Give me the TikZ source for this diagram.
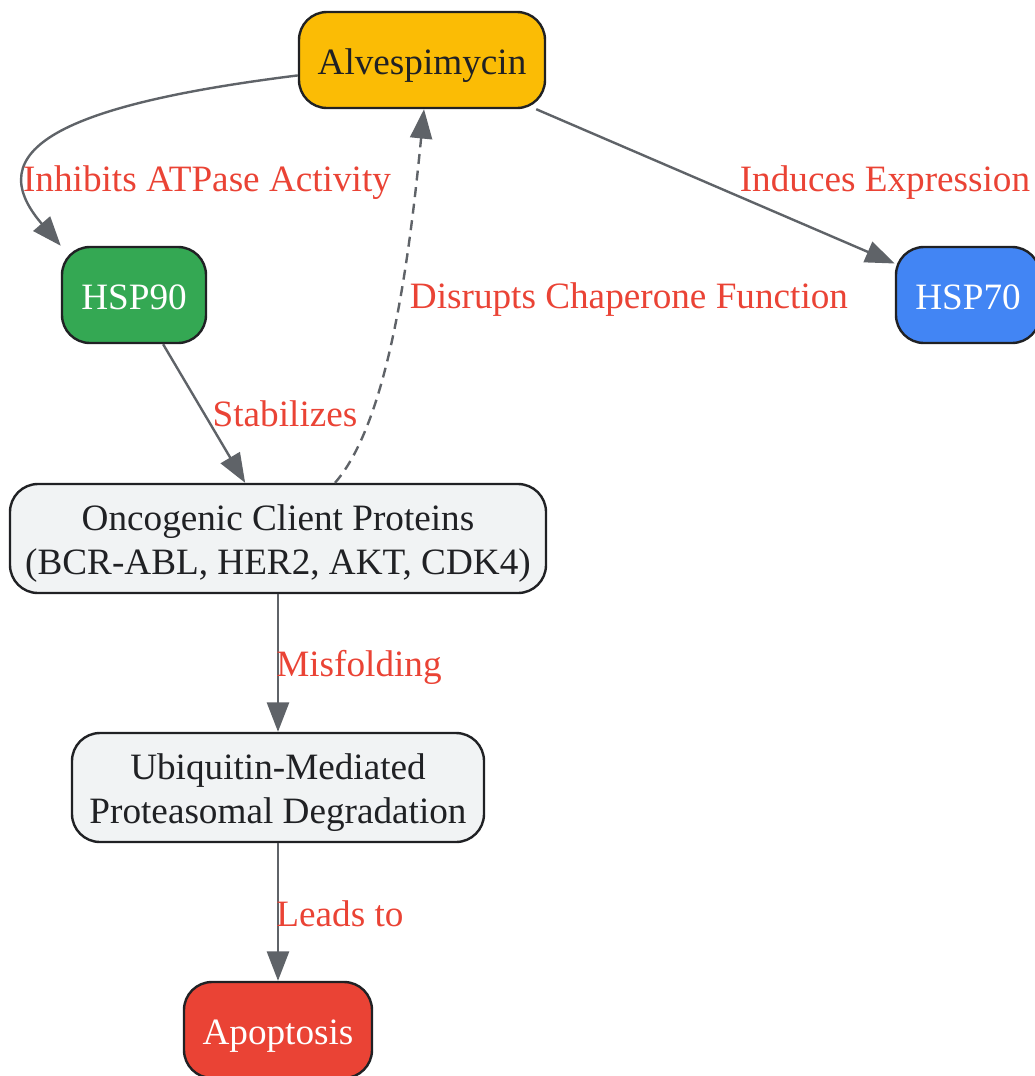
\documentclass[tikz,border=0pt]{standalone}
\usepackage{fontspec}
\setmainfont{Liberation Serif}
\usetikzlibrary{arrows.meta,calc}

\definecolor{drugyellow}{HTML}{FBBC05}
\definecolor{hspgreen}{HTML}{34A853}
\definecolor{hspblue}{HTML}{4285F4}
\definecolor{deathred}{HTML}{EA4335}
\definecolor{boxgrey}{HTML}{F1F3F4}
\definecolor{inkdark}{HTML}{202124}
\definecolor{edgegrey}{HTML}{5F6368}

\newcommand{\linestrut}{\rule[-6.5pt]{0pt}{34.4pt}}
\newcommand{\toplinestrut}{\rule{0pt}{27pt}}

\tikzset{
  box/.style={draw=inkdark, line width=1.8pt, rounded corners=21pt, align=center,
    inner sep=0pt, minimum height=72pt, font=\fontsize{27.9}{33}\selectfont,
    execute at begin node=\linestrut},
  conn/.style={draw=edgegrey, line width=1.8pt, -{Triangle[length=22pt,width=16.5pt]}},
  lbl/.style={text=deathred, inner sep=0pt, font=\fontsize{27.9}{33}\selectfont,
    execute at begin node=\linestrut},
}

\begin{document}
\begin{tikzpicture}[x=0.75pt,y=0.75pt,yscale=-1,xscale=1]
\useasboundingbox (0,0) rectangle (1035,1076);

%Shape: Rounded Rectangle [drug]
\node[box, fill=drugyellow, text=inkdark, minimum width=184.5pt] (alv) at (422,60) {Alvespimycin};
%Shape: Rounded Rectangle [chaperones]
\node[box, fill=hspgreen, text=white, minimum width=108pt] (hsp90) at (134,295) {HSP90};
\node[box, fill=hspblue, text=white, minimum width=108pt] (hsp70) at (968,295) {HSP70};
%Shape: Rounded Rectangle [clients and downstream]
\node[box, fill=boxgrey, text=inkdark, minimum width=402pt, minimum height=81.75pt] (onc) at (278,538.5) {\toplinestrut Oncogenic Client Proteins\\(BCR-ABL, HER2, AKT, CDK4)};
\node[box, fill=boxgrey, text=inkdark, minimum width=309pt, minimum height=81.75pt] (ubi) at (278,787.5) {\toplinestrut Ubiquitin-Mediated\\Proteasomal Degradation};
\node[box, fill=deathred, text=white, minimum width=141pt] (apop) at (278,1030) {Apoptosis};

%Curve Lines
\draw[conn] (alv) .. controls (60,105) and (-22,150) .. (hsp90.north west);
\draw[conn, dashed, dash pattern=on 7.5pt off 5pt] ($(onc.north)+(57,0)$) .. controls (390,420) and (410,250) .. ($(alv.south)+(2,0)$);
%Straight Lines
\draw[conn] (alv) -- (hsp70);
\draw[conn] (hsp90) -- (onc);
\draw[conn] (onc) -- (ubi);
\draw[conn] (ubi) -- (apop);

% Text Node
\node[lbl] (l_inhib) at (207,177.3) {Inhibits ATPase Activity};
% Text Node
\node[lbl] (l_induce) at (885,177.3) {Induces Expression};
% Text Node
\node[lbl] (l_disrupt) at (629,294.3) {Disrupts Chaperone Function};
% Text Node
\node[lbl] (l_stab) at (285,412.3) {Stabilizes};
% Text Node
\node[lbl] (l_misfold) at (359,662.3) {Misfolding};
% Text Node
\node[lbl] (l_leads) at (340,912.3) {Leads to};
\end{tikzpicture}
\end{document}
